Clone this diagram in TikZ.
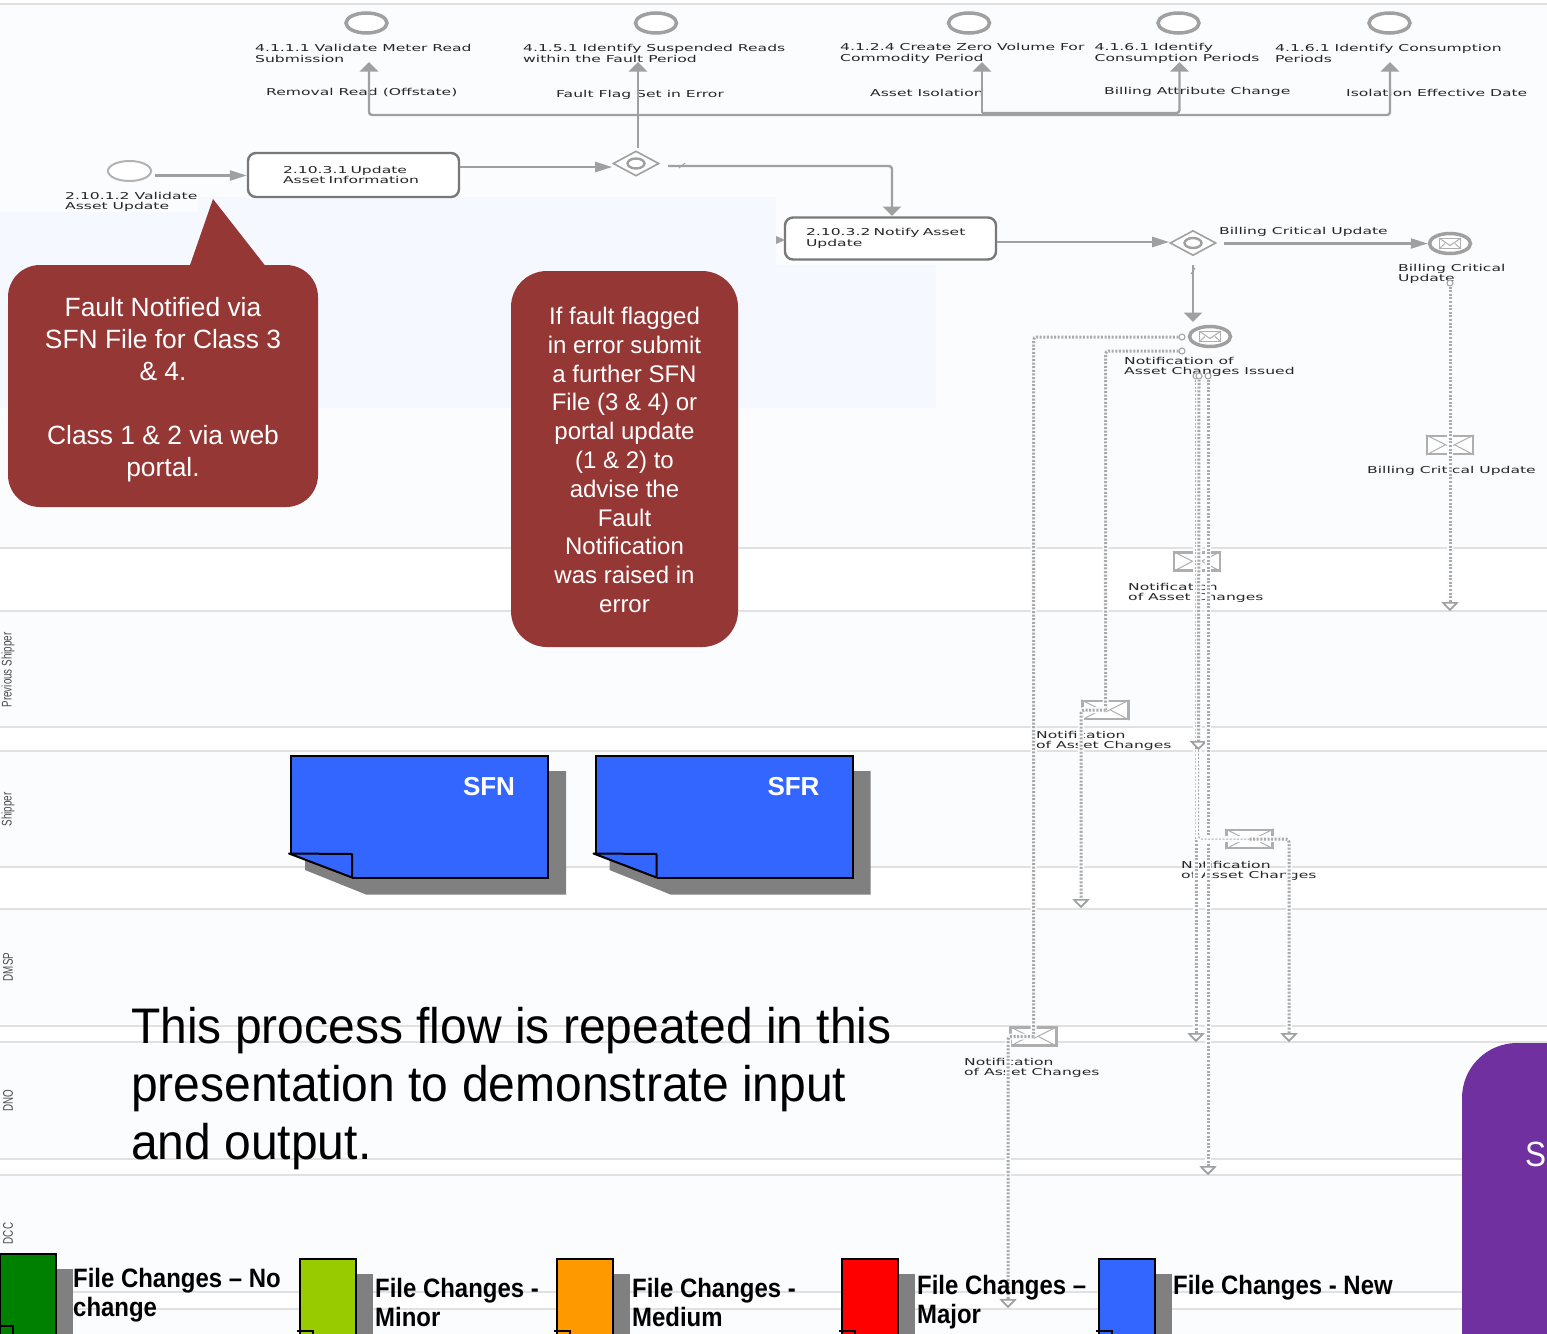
\documentclass[tikz,border=0pt]{standalone}
\usepackage{fontspec}
\usepackage{xcolor}
\usetikzlibrary{arrows, arrows.meta, shapes.geometric}
\setmainfont{Liberation Sans}
\newfontfamily\bpmnfont[FakeStretch=1.64]{DejaVu Sans}
\newfontfamily\lanefont[FakeStretch=.7]{Liberation Sans}
\newfontfamily\narrowfont[FakeStretch=.9]{Liberation Sans}
\newfontfamily\notefont[FakeStretch=.96]{Liberation Sans}
\definecolor{bandbg}{HTML}{FBFCFE}
\definecolor{bandline}{HTML}{E1E1E1}
\definecolor{hilite}{HTML}{F5F8FF}
\definecolor{flowgray}{HTML}{A0A0A0}
\definecolor{taskgray}{HTML}{787878}
\definecolor{callred}{HTML}{953735}
\definecolor{noteblue}{HTML}{3366FF}
\definecolor{shadowgray}{HTML}{808080}
\definecolor{purplebox}{HTML}{7030A0}
\definecolor{legendgreen}{HTML}{008000}
\definecolor{legendlime}{HTML}{99CC00}
\definecolor{legendorange}{HTML}{FF9900}
\tikzset{
  lbl/.style={anchor=west,inner sep=0pt,yshift=-1pt,align=left,text=black!85,font=\bpmnfont\fontsize{9.5}{10.4}\selectfont},
  lane/.style={rotate=90,inner sep=0pt,text=black!70,font=\lanefont\fontsize{14}{14}\selectfont},
  evt/.style={ellipse,draw=flowgray,line width=3.5pt,fill=white,minimum width=41pt,minimum height=20pt,inner sep=0pt},
  startevt/.style={evt,line width=2pt,draw=flowgray!80,minimum width=43pt},
  gate/.style={diamond,draw=flowgray,line width=1.6pt,fill=white,minimum width=46pt,minimum height=25pt,inner sep=0pt},
  gateeye/.style={ellipse,draw=flowgray,line width=2.4pt,fill=white,minimum width=17pt,minimum height=10pt,inner sep=0pt},
  task/.style={rectangle,rounded corners=8pt,draw=taskgray,line width=2.4pt,fill=white,minimum height=44pt,align=left,text=black!85,font=\bpmnfont\fontsize{9.5}{10.4}\selectfont},
  env/.style={rectangle,draw=flowgray!85,line width=2.2pt,fill=white,minimum width=46pt,minimum height=18pt,inner sep=0pt},
  minienv/.style={env,line width=.8pt,minimum width=21pt,minimum height=10pt},
  port/.style={circle,draw=flowgray,line width=1pt,fill=white,minimum size=6pt,inner sep=0pt},
  hflow/.style={draw=flowgray,line width=2.4pt,rounded corners=3pt,-{Triangle[length=17pt,width=10pt]}},
  vflow/.style={draw=flowgray,line width=2.4pt,rounded corners=3pt,-{Triangle[length=9.5pt,width=18pt]}},
  msgline/.style={draw=flowgray!90,line width=3pt,dash pattern=on 2pt off 1.6pt,rounded corners=3pt,preaction={draw=bandbg,solid,line width=6pt}},
  msgflow/.style={msgline,-{Triangle[open,fill=bandbg,length=9pt,width=17pt,line width=1.6pt,color=flowgray]}},
  callbox/.style={rectangle,fill=callred},
  calltxt/.style={text=white,align=center,inner sep=0pt},
  sheettxt/.style={text=white,font=\bfseries\fontsize{26}{26}\selectfont,inner sep=0pt},
  legtxt/.style={anchor=west,inner sep=0pt,yshift=-2pt,align=left,font=\narrowfont\bfseries\fontsize{26.6}{29}\selectfont}
}
\begin{document}
\begin{tikzpicture}[x=1pt,y=-1pt]
\path[use as bounding box,clip] (0,0) rectangle (1547,1333);
\fill[white] (0,0) rectangle (1547,1333);
% swimlane bands
\foreach \ya/\yb in {4/548,611/727,751/867,909/1026,1042/1159,1175/1292,1309/1340}{
  \fill[bandbg] (0,\ya) rectangle (1547,\yb);
  \draw[bandline,line width=1.6pt] (0,\ya)--(1547,\ya);
  \draw[bandline,line width=1.6pt] (0,\yb)--(1547,\yb);
}
\fill[hilite] (0,212)--(198,212)--(198,197)--(776,197)--(776,265)--(936,265)--(936,408)--(0,408)--cycle;
\node[lane] (laneps) at (8,670){Previous Shipper};
\node[lane] (lanesh) at (8,809.5){Shipper};
\node[lane] (lanedm) at (8,967){DMSP};
\node[lane] (lanedn) at (8,1101){DNO};
\node[lane] (lanedc) at (8,1233.5){DCC};
% top end events
\node[evt] (ev1) at (366.5,23){};
\node[evt] (ev2) at (656,23){};
\node[evt] (ev3) at (969,23){};
\node[evt] (ev4) at (1178.5,23){};
\node[evt] (ev5) at (1389.5,23){};
\node[lbl] (ev1l) at (255,52.5){4.1.1.1 Validate Meter Read\\Submission};
\node[lbl] (ev2l) at (523,52.5){4.1.5.1 Identify Suspended Reads\\within the Fault Period};
\node[lbl] (ev3l) at (840,52.5){4.1.2.4 Create Zero Volume For\\Commodity Period};
\node[lbl] (ev4l) at (1094.5,52.5){4.1.6.1 Identify\\Consumption Periods};
\node[lbl] (ev5l) at (1275,52.5){4.1.6.1 Identify Consumption\\Periods};
\node[lbl] (fl1) at (266,92){Removal Read (Offstate)};
\node[lbl] (fl2) at (556,93.5){Fault Flag Set in Error};
\node[lbl] (fl3) at (870,92){Asset Isolation};
\node[lbl] (fl4) at (1104,90.5){Billing Attribute Change};
\node[lbl] (fl5) at (1346,92){Isolation Effective Date};
% process row
\node[startevt] (st) at (129.5,171){};
\node[lbl] (stl) at (65,201){2.10.1.2 Validate\\Asset Update};
\node[task,minimum width=211pt,text width=141pt,inner xsep=35pt] (tk1) at (353.5,175){2.10.3.1 Update\\Asset Information};
\node[gate] (gw1) at (636,163.5){};
\node[gateeye] (gw1e) at (636,163.5){};
\node[task,minimum width=211pt,text width=169pt,inner xsep=21pt,minimum height=42pt] (tk2) at (890.5,238.5){2.10.3.2 Notify Asset\\Update};
\node[gate] (gw2) at (1193,243){};
\node[gateeye] (gw2e) at (1193,243){};
\node[lbl] (bcl) at (1219,231){Billing Critical Update};
\node[evt] (ev6) at (1450,243.5){};
\node[minienv] (ev6m) at (1450,243.5){};
\node[lbl] (ev6l) at (1398,273){Billing Critical\\Update};
\node[evt] (ev7) at (1210,336.5){};
\node[minienv] (ev7m) at (1210,336.5){};
\node[lbl] (ev7l) at (1124,366){Notification of\\Asset Changes Issued};
% messages
\node[env] (m1) at (1450,445){};
\node[env] (m2) at (1105.5,710){};
\node[env] (m3) at (1197,561.5){};
\node[env] (m4) at (1249.5,839){};
\node[env] (m5) at (1033.5,1036.5){};
\foreach \m in {m1,m2,m3,m4,m5,ev6m,ev7m}{
  \draw[flowgray!85,line width=1pt] (\m.north west)--([yshift=-2pt]\m.center)--(\m.north east);
  \draw[flowgray!85,line width=1pt] (\m.south west)--([xshift=-5pt]\m.center);
  \draw[flowgray!85,line width=1pt] (\m.south east)--([xshift=5pt]\m.center);
}
\node[lbl] (m1l) at (1367,470){Billing Critical Update};
\node[lbl] (m2l) at (1036,740){Notification\\of Asset Changes};
\node[lbl] (m3l) at (1128,592){Notification\\of Asset Changes};
\node[lbl] (m4l) at (1181,870){Notification\\of Asset Changes};
\node[lbl] (m5l) at (964,1067){Notification\\of Asset Changes};
% sequence flows
\coordinate (t1) at (369,62);
\coordinate (t2) at (638,62);
\coordinate (t3) at (982,62);
\coordinate (t4) at (1179.5,62);
\coordinate (t5) at (1390,62);
\coordinate (j2) at (638,148);
\coordinate (j2a) at (638,115);
\coordinate (j3) at (982,113);
\coordinate (gw1o) at (668,166);
\coordinate (gw2d) at (1193,265);
\coordinate (tk2t) at (892,216);
\draw[hflow] (st.east) ++(3,4.5) -- (tk1.west |- 0,175.5);
\draw[hflow] (tk1.east |- 0,167) -- (gw1.west |- 0,167);
\draw[vflow] (j2) -- (t2);
\draw[vflow] (j2a) -| (t1);
\draw[vflow] (j2a) -- (1390,115) -- (t5);
\draw[vflow] (j3) -- (t3);
\draw[vflow] (j3) -- (1179.5,113) -- (t4);
\draw[vflow] (gw1o) -- (892,166) -- (tk2t);
\draw[flowgray,line width=1pt] (679,168)--(685,163);
\draw[hflow] (tk2.east |- 0,242) -- (gw2.west |- 0,242);
\draw[hflow] (1224,243.5) -- (ev6.west |- 0,243.5);
\draw[vflow] (gw2d) -- (1193,322);
\draw[flowgray,line width=1pt] (1191,274)--(1195,268);
\fill[flowgray] (776,236)--(785,240)--(776,244)--cycle;
% message flows
\node[port] (p1) at (1182,337){};
\node[port] (p2) at (1182,351){};
\node[port] (p3) at (1196,376){};
\node[port] (p4) at (1199,376){};
\node[port] (p5) at (1208,376){};
\node[port] (p6) at (1450,283){};
\coordinate (a1) at (1450,611);
\coordinate (a2) at (1081,908);
\coordinate (a3) at (1196,1042);
\coordinate (a4) at (1198.5,750);
\coordinate (a5) at (1208,1175);
\coordinate (a6) at (1289,1042);
\coordinate (a7) at (1008,1308);
\draw[msgflow] (p6) -- (a1);
\draw[msgline] (p1) -| (m5.center);
\draw[msgflow] (m5.center) -| (a7);
\draw[msgline] (p2) -| (m2.center);
\draw[msgflow] (m2.center) -| (a2);
\draw[msgflow] (p3) -- (a3);
\draw[msgflow] (p4) -- (a4);
\draw[msgflow] (p5) -- (a5);
\draw[msgline,line width=1pt,preaction={draw=none}] (a4) |- (m4.center);
\draw[msgflow] (m4.center) -| (a6);
% sheets
\foreach \sx/\slab/\sname in {0/SFN/sfn,304.5/SFR/sfr}{
\begin{scope}[shift={(\sx,0)}]
\fill[shadowgray] (305,771)--(566,771)--(566,894.5)--(366,894.5)--(305,870)--cycle;
\fill[noteblue] (291,756)--(548,756)--(548,877.5)--(352,877.5)--(291,853)--cycle;
\draw[black,line width=2pt] (291,853)--(291,756)--(548,756)--(548,877.5)--(352,877.5);
\draw[black,line width=2pt,line join=round,fill=noteblue] (352,877.5)--(352,854)--(289,853.5)--cycle;
\node[sheettxt] (\sname) at (489,787){\slab};
\end{scope}
}
% legend
\foreach \lx/\ly/\lc in {-1/1254/legendgreen,299/1259/legendlime,556/1259/legendorange,841/1259/red,1098/1259/noteblue}{
  \fill[shadowgray] (\lx+57,\ly+15) rectangle (\lx+74,1340);
  \filldraw[draw=black,line width=2pt,fill=\lc] (\lx+.5,\ly) rectangle (\lx+56.5,1340);
  \draw[black,line width=1.6pt] (\lx-2,\ly+72)--(\lx+14,\ly+72)--(\lx+14,1340);
}
\node[legtxt] (lg1) at (73,1293){File Changes – No\\change};
\node[legtxt] (lg2) at (375,1300){File Changes -\\Minor};
\node[legtxt] (lg3) at (632,1300){File Changes -\\Medium};
\node[legtxt] (lg4) at (917,1300){File Changes –\\Major};
\node[legtxt] (lg5) at (1173,1286){File Changes - New};
% callouts
\fill[callred] (189,268)--(213,199)--(267,268)--cycle;
\node[callbox,rounded corners=32pt,minimum width=310pt,minimum height=242pt] (cb1) at (163,386){};
\node[calltxt,font=\fontsize{26.4}{32}\selectfont] (cb1t) at (163,390){Fault Notified via\\SFN File for Class 3\\\& 4.\\ \mbox{}\\Class 1 \& 2 via web\\portal.};
\node[callbox,rounded corners=36pt,minimum width=227pt,minimum height=376pt] (cb2) at (624.5,459){};
\node[calltxt,font=\fontsize{24}{28.8}\selectfont] (cb2t) at (624.5,460){If fault flagged\\in error submit\\a further SFN\\File (3 \& 4) or\\portal update\\(1 \& 2) to\\advise the\\Fault\\Notification\\was raised in\\error};
\fill[purplebox,rounded corners=55pt] (1462,1043) rectangle (1700,1420);
\node[text=white,font=\narrowfont\fontsize{35}{35}\selectfont,inner sep=0pt] (sbox) at (1535.5,1154){S};
\node[anchor=west,inner sep=0pt,align=left,font=\notefont\fontsize{50}{58}\selectfont] (note) at (131,1089){This process flow is repeated in this\\presentation to demonstrate input\\and output.};
\end{tikzpicture}
\end{document}
